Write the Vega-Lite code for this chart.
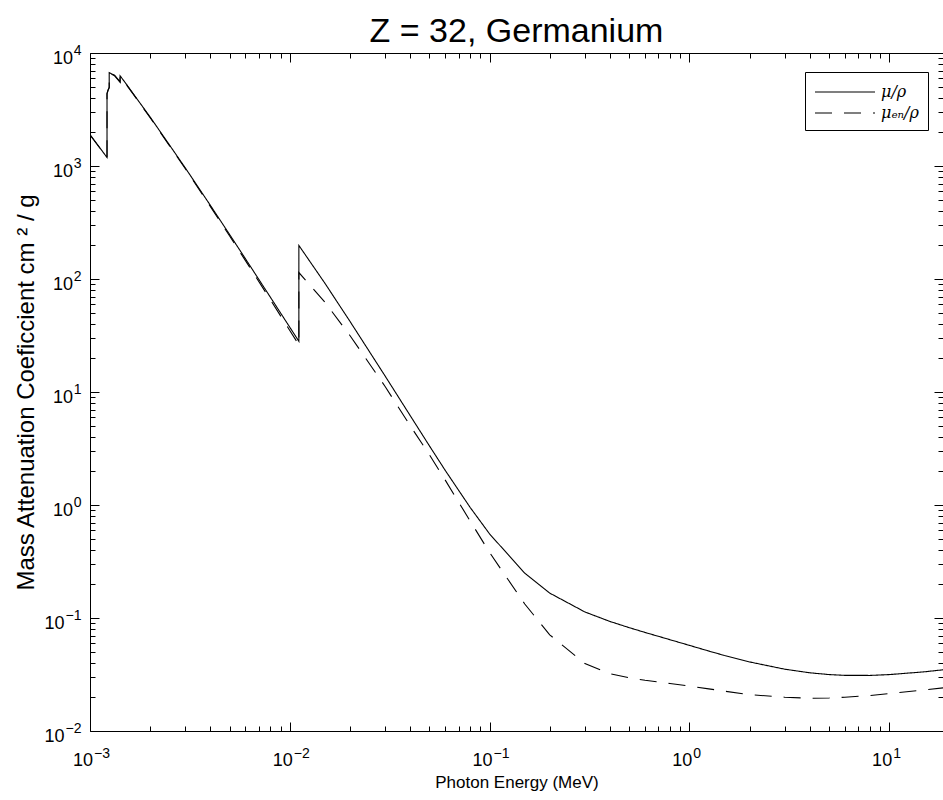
{
  "$schema": "https://vega.github.io/schema/vega-lite/v6.json",
  "autosize": {"type": "none"},
  "padding": {"left": 90, "top": 53, "right": 0, "bottom": 69},
  "width": 853,
  "height": 678,
  "background": "white",
  "title": {
    "text": "Z = 32, Germanium",
    "font": "Liberation Sans",
    "fontSize": 34,
    "fontWeight": "normal",
    "color": "black",
    "anchor": "middle",
    "offset": -6
  },
  "config": {
    "view": {"stroke": null},
    "axis": {
      "domainColor": "black",
      "domainWidth": 1,
      "tickColor": "black",
      "tickWidth": 1,
      "labelColor": "black",
      "titleColor": "black",
      "labelFont": "Liberation Sans",
      "titleFont": "Liberation Sans",
      "labelFontSize": 18,
      "titleFontSize": 17,
      "titleFontWeight": "normal",
      "grid": false,
      "labelOverlap": false,
      "labelFlush": false,
      "labelBound": false
    }
  },
  "datasets": {
    "coefficients": [
      {"order": 1, "series": "μ/ρ", "energy": 0.001, "coef": 1893},
      {"order": 2, "series": "μ/ρ", "energy": 0.00110304, "coef": 1502},
      {"order": 3, "series": "μ/ρ", "energy": 0.0012167, "coef": 1190},
      {"order": 4, "series": "μ/ρ", "energy": 0.0012167, "coef": 4389},
      {"order": 5, "series": "μ/ρ", "energy": 0.00123215, "coef": 4734},
      {"order": 6, "series": "μ/ρ", "energy": 0.0012478, "coef": 4974},
      {"order": 7, "series": "μ/ρ", "energy": 0.0012478, "coef": 6698},
      {"order": 8, "series": "μ/ρ", "energy": 0.00132844, "coef": 6348},
      {"order": 9, "series": "μ/ρ", "energy": 0.0014143, "coef": 5554},
      {"order": 10, "series": "μ/ρ", "energy": 0.0014143, "coef": 6287},
      {"order": 11, "series": "μ/ρ", "energy": 0.0015, "coef": 5475},
      {"order": 12, "series": "μ/ρ", "energy": 0.002, "coef": 2711},
      {"order": 13, "series": "μ/ρ", "energy": 0.003, "coef": 961.3},
      {"order": 14, "series": "μ/ρ", "energy": 0.004, "coef": 449.7},
      {"order": 15, "series": "μ/ρ", "energy": 0.005, "coef": 247.2},
      {"order": 16, "series": "μ/ρ", "energy": 0.006, "coef": 150.9},
      {"order": 17, "series": "μ/ρ", "energy": 0.008, "coef": 68.9},
      {"order": 18, "series": "μ/ρ", "energy": 0.01, "coef": 37.42},
      {"order": 19, "series": "μ/ρ", "energy": 0.0111031, "coef": 28.11},
      {"order": 20, "series": "μ/ρ", "energy": 0.0111031, "coef": 198.1},
      {"order": 21, "series": "μ/ρ", "energy": 0.015, "coef": 91.52},
      {"order": 22, "series": "μ/ρ", "energy": 0.02, "coef": 42.22},
      {"order": 23, "series": "μ/ρ", "energy": 0.03, "coef": 13.85},
      {"order": 24, "series": "μ/ρ", "energy": 0.04, "coef": 6.207},
      {"order": 25, "series": "μ/ρ", "energy": 0.05, "coef": 3.335},
      {"order": 26, "series": "μ/ρ", "energy": 0.06, "coef": 2.023},
      {"order": 27, "series": "μ/ρ", "energy": 0.08, "coef": 0.9501},
      {"order": 28, "series": "μ/ρ", "energy": 0.1, "coef": 0.555},
      {"order": 29, "series": "μ/ρ", "energy": 0.15, "coef": 0.2491},
      {"order": 30, "series": "μ/ρ", "energy": 0.2, "coef": 0.1661},
      {"order": 31, "series": "μ/ρ", "energy": 0.3, "coef": 0.1131},
      {"order": 32, "series": "μ/ρ", "energy": 0.4, "coef": 0.09327},
      {"order": 33, "series": "μ/ρ", "energy": 0.5, "coef": 0.08212},
      {"order": 34, "series": "μ/ρ", "energy": 0.6, "coef": 0.07452},
      {"order": 35, "series": "μ/ρ", "energy": 0.8, "coef": 0.06426},
      {"order": 36, "series": "μ/ρ", "energy": 1, "coef": 0.05727},
      {"order": 37, "series": "μ/ρ", "energy": 1.25, "coef": 0.05101},
      {"order": 38, "series": "μ/ρ", "energy": 1.5, "coef": 0.04657},
      {"order": 39, "series": "μ/ρ", "energy": 2, "coef": 0.04086},
      {"order": 40, "series": "μ/ρ", "energy": 3, "coef": 0.03524},
      {"order": 41, "series": "μ/ρ", "energy": 4, "coef": 0.03275},
      {"order": 42, "series": "μ/ρ", "energy": 5, "coef": 0.03158},
      {"order": 43, "series": "μ/ρ", "energy": 6, "coef": 0.03107},
      {"order": 44, "series": "μ/ρ", "energy": 8, "coef": 0.03103},
      {"order": 45, "series": "μ/ρ", "energy": 10, "coef": 0.03156},
      {"order": 46, "series": "μ/ρ", "energy": 15, "coef": 0.0334},
      {"order": 47, "series": "μ/ρ", "energy": 20, "coef": 0.03528},
      {"order": 1, "series": "μₑₙ/ρ", "energy": 0.001, "coef": 1887},
      {"order": 2, "series": "μₑₙ/ρ", "energy": 0.00110304, "coef": 1496},
      {"order": 3, "series": "μₑₙ/ρ", "energy": 0.0012167, "coef": 1185},
      {"order": 4, "series": "μₑₙ/ρ", "energy": 0.0012167, "coef": 4343},
      {"order": 5, "series": "μₑₙ/ρ", "energy": 0.00123215, "coef": 4684},
      {"order": 6, "series": "μₑₙ/ρ", "energy": 0.0012478, "coef": 4921},
      {"order": 7, "series": "μₑₙ/ρ", "energy": 0.0012478, "coef": 6630},
      {"order": 8, "series": "μₑₙ/ρ", "energy": 0.00132844, "coef": 6286},
      {"order": 9, "series": "μₑₙ/ρ", "energy": 0.0014143, "coef": 5499},
      {"order": 10, "series": "μₑₙ/ρ", "energy": 0.0014143, "coef": 6221},
      {"order": 11, "series": "μₑₙ/ρ", "energy": 0.0015, "coef": 5420},
      {"order": 12, "series": "μₑₙ/ρ", "energy": 0.002, "coef": 2681},
      {"order": 13, "series": "μₑₙ/ρ", "energy": 0.003, "coef": 945.6},
      {"order": 14, "series": "μₑₙ/ρ", "energy": 0.004, "coef": 439.4},
      {"order": 15, "series": "μₑₙ/ρ", "energy": 0.005, "coef": 239.9},
      {"order": 16, "series": "μₑₙ/ρ", "energy": 0.006, "coef": 145.5},
      {"order": 17, "series": "μₑₙ/ρ", "energy": 0.008, "coef": 65.51},
      {"order": 18, "series": "μₑₙ/ρ", "energy": 0.01, "coef": 35.04},
      {"order": 19, "series": "μₑₙ/ρ", "energy": 0.0111031, "coef": 26.15},
      {"order": 20, "series": "μₑₙ/ρ", "energy": 0.0111031, "coef": 114},
      {"order": 21, "series": "μₑₙ/ρ", "energy": 0.015, "coef": 62.2},
      {"order": 22, "series": "μₑₙ/ρ", "energy": 0.02, "coef": 31.6},
      {"order": 23, "series": "μₑₙ/ρ", "energy": 0.03, "coef": 11.2},
      {"order": 24, "series": "μₑₙ/ρ", "energy": 0.04, "coef": 5.05},
      {"order": 25, "series": "μₑₙ/ρ", "energy": 0.05, "coef": 2.78},
      {"order": 26, "series": "μₑₙ/ρ", "energy": 0.06, "coef": 1.66},
      {"order": 27, "series": "μₑₙ/ρ", "energy": 0.08, "coef": 0.72},
      {"order": 28, "series": "μₑₙ/ρ", "energy": 0.1, "coef": 0.38},
      {"order": 29, "series": "μₑₙ/ρ", "energy": 0.15, "coef": 0.133},
      {"order": 30, "series": "μₑₙ/ρ", "energy": 0.2, "coef": 0.071},
      {"order": 31, "series": "μₑₙ/ρ", "energy": 0.3, "coef": 0.0395},
      {"order": 32, "series": "μₑₙ/ρ", "energy": 0.4, "coef": 0.0322},
      {"order": 33, "series": "μₑₙ/ρ", "energy": 0.5, "coef": 0.0296},
      {"order": 34, "series": "μₑₙ/ρ", "energy": 0.6, "coef": 0.0281},
      {"order": 35, "series": "μₑₙ/ρ", "energy": 0.8, "coef": 0.0263},
      {"order": 36, "series": "μₑₙ/ρ", "energy": 1, "coef": 0.025},
      {"order": 37, "series": "μₑₙ/ρ", "energy": 1.25, "coef": 0.0236},
      {"order": 38, "series": "μₑₙ/ρ", "energy": 1.5, "coef": 0.0225},
      {"order": 39, "series": "μₑₙ/ρ", "energy": 2, "coef": 0.021},
      {"order": 40, "series": "μₑₙ/ρ", "energy": 3, "coef": 0.0199},
      {"order": 41, "series": "μₑₙ/ρ", "energy": 4, "coef": 0.0195},
      {"order": 42, "series": "μₑₙ/ρ", "energy": 5, "coef": 0.0196},
      {"order": 43, "series": "μₑₙ/ρ", "energy": 6, "coef": 0.0199},
      {"order": 44, "series": "μₑₙ/ρ", "energy": 8, "coef": 0.0206},
      {"order": 45, "series": "μₑₙ/ρ", "energy": 10, "coef": 0.0214},
      {"order": 46, "series": "μₑₙ/ρ", "energy": 15, "coef": 0.0231},
      {"order": 47, "series": "μₑₙ/ρ", "energy": 20, "coef": 0.0244}
    ]
  },
  "data": {"name": "coefficients"},
  "resolve": {"axis": {"x": "independent", "y": "independent"}},
  "layer": [
    {
      "mark": {"type": "line", "clip": true, "color": "black", "strokeWidth": 1.1},
      "encoding": {
        "x": {
          "field": "energy", "type": "quantitative",
          "scale": {"type": "log", "domain": [0.001, 18.6], "nice": false},
          "axis": {
            "orient": "bottom",
            "title": "Photon Energy (MeV)",
            "titlePadding": 43,
            "labels": false,
            "values": [0.001,0.002,0.003,0.004,0.005,0.006,0.007,0.008,0.009,0.01,0.02,0.03,0.04,0.05,0.06,0.07,0.08,0.09,0.1,0.2,0.3,0.4,0.5,0.6,0.7,0.8,0.9,1,2,3,4,5,6,7,8,9,10],
            "tickSize": {"condition": {"test": "abs(log(datum.value)/LN10 - round(log(datum.value)/LN10)) < 0.001", "value": -9}, "value": -5}
          }
        },
        "y": {
          "field": "coef", "type": "quantitative",
          "scale": {"type": "log", "domain": [0.01, 10000], "nice": false},
          "axis": {
            "orient": "left",
            "title": "Mass Attenuation Coeficcient cm ² / g",
            "titleFontSize": 24,
            "titlePadding": 51,
            "labels": false,
            "values": [0.01,0.02,0.03,0.04,0.05,0.06,0.07,0.08,0.09,0.1,0.2,0.3,0.4,0.5,0.6,0.7,0.8,0.9,1,2,3,4,5,6,7,8,9,10,20,30,40,50,60,70,80,90,100,200,300,400,500,600,700,800,900,1000,2000,3000,4000,5000,6000,7000,8000,9000,10000],
            "tickSize": {"condition": {"test": "abs(log(datum.value)/LN10 - round(log(datum.value)/LN10)) < 0.001", "value": -9}, "value": -5}
          }
        },
        "strokeDash": {
          "field": "series", "type": "nominal",
          "scale": {"domain": ["μ/ρ", "μₑₙ/ρ"], "range": [[1, 0], [17, 12]]},
          "legend": {
            "title": null,
            "orient": "none",
            "legendX": 715,
            "legendY": 19,
            "symbolType": "M-1,0H5",
            "symbolSize": 400,
            "symbolStrokeWidth": 1.1,
            "symbolStrokeColor": "black",
            "labelOffset": 45,
            "labelFont": "DejaVu Serif",
            "labelFontStyle": "italic",
            "labelFontSize": 16,
            "labelColor": "black",
            "strokeColor": "black",
            "fillColor": "white",
            "padding": 9,
            "rowPadding": 2
          }
        },
        "order": {"field": "order", "type": "quantitative"}
      }
    },
    {
      "mark": {"type": "line", "clip": true, "opacity": 0},
      "encoding": {
        "x": {
          "field": "energy", "type": "quantitative",
          "axis": {
            "orient": "bottom",
            "title": null,
            "domain": false,
            "ticks": false,
            "values": [0.001, 0.01, 0.1, 1, 10],
            "labelExpr": "'10'",
            "labelAlign": "right",
            "labelBaseline": "alphabetic",
            "labelOffset": 2.5,
            "labelPadding": 34,
            "labelFontSize": 18
          }
        },
        "y": {
          "field": "coef", "type": "quantitative",
          "axis": {
            "orient": "left",
            "title": null,
            "domain": false,
            "ticks": false,
            "values": [0.01, 0.1, 1, 10, 100, 1000, 10000],
            "labelExpr": "'10'",
            "labelAlign": "right",
            "labelBaseline": "alphabetic",
            "labelOffset": 10,
            "labelPadding": {"condition": {"test": "datum.value < 0.5", "value": 26}, "value": 17.5},
            "labelFontSize": 18
          }
        },
        "detail": {"field": "series", "type": "nominal"},
        "order": {"field": "order", "type": "quantitative"}
      }
    },
    {
      "mark": {"type": "line", "clip": true, "opacity": 0},
      "encoding": {
        "x": {
          "field": "energy", "type": "quantitative",
          "axis": {
            "orient": "bottom",
            "title": null,
            "domain": false,
            "ticks": false,
            "values": [0.001, 0.01, 0.1, 1, 10],
            "labelExpr": "(round(log(datum.value)/LN10) < 0 ? '−' : '') + abs(round(log(datum.value)/LN10))",
            "labelAlign": "left",
            "labelBaseline": "alphabetic",
            "labelOffset": 3.5,
            "labelPadding": 26,
            "labelFontSize": 14
          }
        },
        "y": {
          "field": "coef", "type": "quantitative",
          "axis": {
            "orient": "left",
            "title": null,
            "domain": false,
            "ticks": false,
            "values": [0.01, 0.1, 1, 10, 100, 1000, 10000],
            "labelExpr": "(round(log(datum.value)/LN10) < 0 ? '−' : '') + abs(round(log(datum.value)/LN10))",
            "labelAlign": "right",
            "labelBaseline": "alphabetic",
            "labelOffset": 1,
            "labelPadding": 9,
            "labelFontSize": 14
          }
        },
        "detail": {"field": "series", "type": "nominal"},
        "order": {"field": "order", "type": "quantitative"}
      }
    },
    {
      "mark": {"type": "line", "clip": true, "opacity": 0},
      "encoding": {
        "x": {
          "field": "energy", "type": "quantitative",
          "axis": {
            "orient": "top",
            "title": null,
            "labels": false,
            "values": [0.001,0.002,0.003,0.004,0.005,0.006,0.007,0.008,0.009,0.01,0.02,0.03,0.04,0.05,0.06,0.07,0.08,0.09,0.1,0.2,0.3,0.4,0.5,0.6,0.7,0.8,0.9,1,2,3,4,5,6,7,8,9,10],
            "tickSize": {"condition": {"test": "abs(log(datum.value)/LN10 - round(log(datum.value)/LN10)) < 0.001", "value": -9}, "value": -5}
          }
        },
        "y": {
          "field": "coef", "type": "quantitative",
          "axis": {
            "orient": "right",
            "title": null,
            "labels": false,
            "values": [0.01,0.02,0.03,0.04,0.05,0.06,0.07,0.08,0.09,0.1,0.2,0.3,0.4,0.5,0.6,0.7,0.8,0.9,1,2,3,4,5,6,7,8,9,10,20,30,40,50,60,70,80,90,100,200,300,400,500,600,700,800,900,1000,2000,3000,4000,5000,6000,7000,8000,9000,10000],
            "tickSize": {"condition": {"test": "abs(log(datum.value)/LN10 - round(log(datum.value)/LN10)) < 0.001", "value": -9}, "value": -5}
          }
        },
        "detail": {"field": "series", "type": "nominal"},
        "order": {"field": "order", "type": "quantitative"}
      }
    }
  ]
}
